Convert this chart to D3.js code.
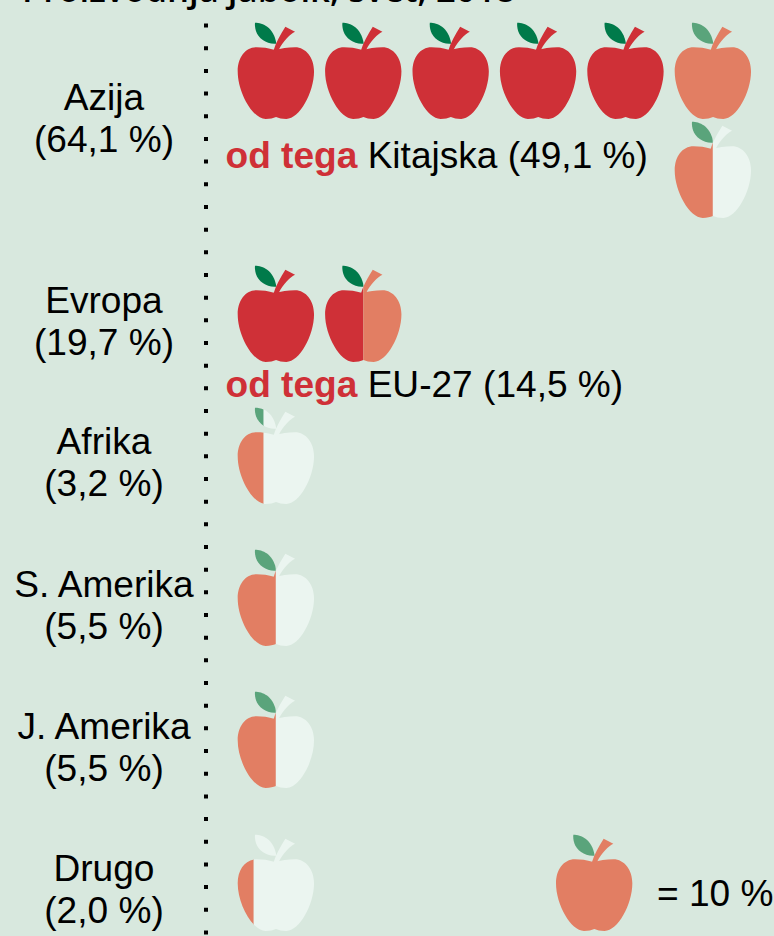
<!DOCTYPE html>
<html>
<head>
<meta charset="utf-8">
<script src="https://cdn.jsdelivr.net/npm/d3@7"></script>
<style>
  html, body { margin: 0; padding: 0; background: #d8e8de; }
  text { font-family: "Liberation Sans", Arial, sans-serif; font-size: 37.1px; fill: #000; }
</style>
</head>
<body>
<div id="chart"></div>
<script>
const titleText = "Proizvodnja jabolk, svet, 2018";
const regions = ["Azija", "Evropa", "Afrika", "S. Amerika", "J. Amerika", "Drugo"];
const shareLabels = ["(64,1 %)", "(19,7 %)", "(3,2 %)", "(5,5 %)", "(5,5 %)", "(2,0 %)"];
// values as the pictogram shows them, 10 = one full apple
const shownTotal = [65, 20, 3.4, 5, 5, 2.1];
const shownOfWhich = [50, 15, 0, 0, 0, 0];
const ofWhichNames = ["Kitajska (49,1 %)", "EU-27 (14,5 %)", "", "", "", ""];
const legendValue = 10;
const legendLabel = "= 10 %";

const width = 774, height = 936;
const perApple = 10, perRow = 6;

const colors = {
  bg: "#d8e8de",
  dark: "#cf3037",
  light: "#e27e63",
  empty: "#ebf5f0",
  leafDark: "#007a4a",
  leafLight: "#5aa47b"
};

const svg = d3.select("#chart")
              .append("svg")
              .attr("width", width)
              .attr("height", height)
              .style("display", "block");

svg.append("rect").attr("width", width).attr("height", height).attr("fill", colors.bg);

const rowTop = d3.scaleOrdinal()
                 .domain(regions)
                 .range([22, 265, 407, 549, 691, 834]);
const labelY = d3.scaleOrdinal()
                 .domain(regions)
                 .range([110, 313, 454, 597, 739, 881]);
const ofWhichY = d3.scaleOrdinal()
                   .domain(regions)
                   .range([168, 397]);
const col = d3.scaleLinear().domain([0, perRow - 1]).range([237.7, 674.7]);
const rowGap = 99;

// apple outline is drawn in a 229 wide box and scaled down
const appleScale = 1 / 3;
const fillX = d3.scaleLinear().domain([0, perApple]).range([0, 229]);

const bodyPath = "M112,84 C90,78 75,76 57,76 C22,76 0,108 0,148 C0,212 45,291 84,291 C98,291 106,288 115,285 C124,288 132,291 146,291 C185,291 229,212 229,148 C229,108 205,76 172,76 C150,76 130,80 112,84 Z";
const leafPath = "M52,2 C75,2 108,15 116,65 C88,68 62,50 55,28 C52,18 51,8 52,2 Z";
const stemPath = "M108,84 C114,62 128,38 143,14 L172,29 C158,36 137,55 123,84 Z";

const defs = svg.append("defs");
let clipId = 0;

function drawApple(x, y, dark, light) {
  const g = svg.append("g")
               .attr("transform", `translate(${x},${y}) scale(${appleScale})`);
  const layers = [
    {from: 0, to: dark, body: colors.dark, leaf: colors.leafDark},
    {from: dark, to: light, body: colors.light, leaf: colors.leafLight},
    {from: light, to: perApple, body: colors.empty, leaf: colors.empty}
  ];
  layers.filter(l => l.to > l.from).forEach(l => {
    const id = "clip" + (clipId++);
    defs.append("clipPath").attr("id", id)
        .append("rect")
        .attr("x", fillX(l.from) - (l.from === 0 ? 5 : 0))
        .attr("y", -5)
        .attr("width", fillX(l.to) - fillX(l.from) + (l.from === 0 ? 5 : 0) + (l.to === perApple ? 5 : 0))
        .attr("height", 305);
    const part = g.append("g").attr("clip-path", `url(#${id})`);
    part.append("path").attr("d", leafPath).attr("fill", l.leaf);
    part.append("path").attr("d", stemPath).attr("fill", l.body);
    part.append("path").attr("d", bodyPath).attr("fill", l.body);
  });
}

regions.forEach((r, i) => {
  const n = Math.ceil(shownTotal[i] / perApple);
  d3.range(n).forEach(k => {
    const lo = k * perApple;
    const dark = Math.max(0, Math.min(perApple, shownOfWhich[i] - lo));
    const light = Math.max(0, Math.min(perApple, shownTotal[i] - lo));
    const overflow = k >= perRow;
    drawApple(col(overflow ? perRow - 1 : k), rowTop(r) + (overflow ? rowGap : 0), dark, light);
  });
});

// dotted divider
svg.append("line")
   .attr("x1", 206).attr("x2", 206)
   .attr("y1", 23.6).attr("y2", height)
   .attr("stroke", "#000")
   .attr("stroke-width", 4)
   .attr("stroke-dasharray", "4 18.67");

svg.append("text")
   .attr("x", 22).attr("y", 2)
   .style("font-family", "'Open Sans', sans-serif")
   .style("font-weight", 600)
   .style("font-size", "34.7px")
   .text(titleText);

const labels = svg.selectAll(".region")
                  .data(regions)
                  .enter()
                  .append("text")
                  .attr("class", "region")
                  .attr("text-anchor", "middle");
labels.append("tspan").attr("x", 104).attr("y", d => labelY(d)).text(d => d);
labels.append("tspan").attr("x", 104).attr("y", d => labelY(d) + 42).text((d, i) => shareLabels[i]);

const ofWhichRows = regions.map((r, i) => ({r, name: ofWhichNames[i]})).filter(d => d.name);
const ofWhich = svg.selectAll(".ofwhich")
                   .data(ofWhichRows)
                   .enter()
                   .append("text")
                   .attr("class", "ofwhich")
                   .attr("x", 225.5)
                   .attr("y", d => ofWhichY(d.r));
ofWhich.append("tspan")
       .style("font-weight", 700)
       .style("fill", colors.dark)
       .text("od tega ");
ofWhich.append("tspan").text(d => d.name);

// legend
drawApple(556, rowTop("Drugo"), 0, legendValue);
svg.append("text").attr("x", 657).attr("y", 906).text(legendLabel);
</script>
</body>
</html>
